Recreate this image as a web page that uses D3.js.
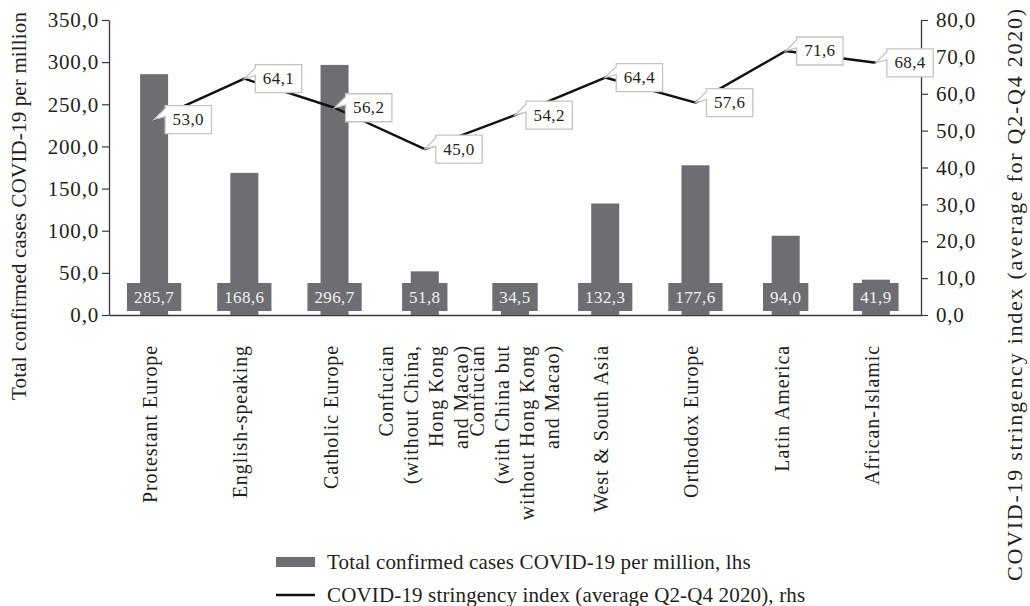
<!DOCTYPE html>
<html>
<head>
<meta charset="utf-8">
<script src="https://cdn.jsdelivr.net/npm/d3@7"></script>
<style>
  html, body { margin: 0; padding: 0; background: #fff; }
  svg { display: block; }
  text { font-family: "Liberation Serif", "Times New Roman", serif; fill: #231f20; }
</style>
</head>
<body>
<svg id="chart" width="1030" height="606"></svg>
<script>
// ---------------- DATA ----------------
const categories = [
  ["Protestant Europe"],
  ["English-speaking"],
  ["Catholic Europe"],
  ["Confucian", "(without China,", "Hong Kong", "and Macao)"],
  ["Confucian", "(with China but", "without Hong Kong", "and Macao)"],
  ["West & South Asia"],
  ["Orthodox Europe"],
  ["Latin America"],
  ["African-Islamic"]
];
const casesPerMillion = [285.7, 168.6, 296.7, 51.8, 34.5, 132.3, 177.6, 94.0, 41.9];
const stringencyIndex = [53.0, 64.1, 56.2, 45.0, 54.2, 64.4, 57.6, 71.6, 68.4];
const leftTicks = [0, 50, 100, 150, 200, 250, 300, 350];
const rightTicks = [0, 10, 20, 30, 40, 50, 60, 70, 80];
const leftTitle = "Total confirmed cases COVID-19 per million";
const rightTitle = "COVID-19 stringency index (average for Q2-Q4 2020)";
const legendBar = "Total confirmed cases COVID-19 per million, lhs";
const legendLine = "COVID-19 stringency index (average Q2-Q4 2020), rhs";

// ---------------- LAYOUT ----------------
const plot = { left: 109, right: 921, top: 20, bottom: 315 };
const barColor = "#6d6e71";
const axisColor = "#3a3a3a";

const locale = d3.formatLocale({ decimal: ",", thousands: " ", grouping: [3], currency: ["", ""] });
const fmt = locale.format(".1f");

const svg = d3.select("#chart");
const keys = categories.map((c, i) => i);

const x = d3.scaleBand().domain(keys).range([plot.left, plot.right]).padding(0);
const yL = d3.scaleLinear().domain([0, 350]).range([plot.bottom, plot.top]);
const yR = d3.scaleLinear().domain([0, 80]).range([plot.bottom, plot.top]);
const cx = i => x(i) + x.bandwidth() / 2;
const barW = 28;

// ---------------- AXES ----------------
const axL = svg.append("g").attr("transform", `translate(${plot.left},0)`)
  .call(d3.axisLeft(yL).tickValues(leftTicks).tickFormat(fmt).tickSize(7).tickSizeOuter(0).tickPadding(3));
const axR = svg.append("g").attr("transform", `translate(${plot.right},0)`)
  .call(d3.axisRight(yR).tickValues(rightTicks).tickFormat(fmt).tickSize(7).tickSizeOuter(0).tickPadding(8));
const axB = svg.append("g").attr("transform", `translate(0,${plot.bottom})`)
  .call(d3.axisBottom(x).tickSize(0).tickSizeOuter(0).tickFormat(() => ""));

[axL, axR, axB].forEach(g => {
  g.selectAll("path.domain").attr("stroke", axisColor).attr("stroke-width", 1.3);
  g.selectAll(".tick line").attr("stroke", axisColor).attr("stroke-width", 1.2);
  g.selectAll(".tick text").attr("font-size", 21).attr("letter-spacing", "0.8px")
    .attr("fill", "#231f20").style("font-family", '"Liberation Serif", "Times New Roman", serif');
});

// ---------------- BARS ----------------
svg.append("g").selectAll("rect").data(casesPerMillion).join("rect")
  .attr("x", (d, i) => cx(i) - barW / 2)
  .attr("y", d => yL(d))
  .attr("width", barW)
  .attr("height", d => yL(0) - yL(d))
  .attr("fill", barColor);

// value labels on bars (dark boxes near the base)
const vlg = svg.append("g");
casesPerMillion.forEach((d, i) => {
  const g = vlg.append("g");
  const t = g.append("text")
    .attr("x", cx(i)).attr("y", 297)
    .attr("text-anchor", "middle").attr("dominant-baseline", "central")
    .attr("font-size", 17).attr("letter-spacing", "0.4px")
    .style("fill", "#f2f2f2")
    .text(fmt(d));
  const bw = t.node().getComputedTextLength() + 14;
  g.insert("rect", "text")
    .attr("x", cx(i) - bw / 2).attr("y", 283)
    .attr("width", bw).attr("height", 28)
    .attr("fill", barColor);
});

// ---------------- LINE ----------------
const line = d3.line().x((d, i) => cx(i)).y(d => yR(d));
svg.append("path").datum(stringencyIndex)
  .attr("d", line)
  .attr("fill", "none")
  .attr("stroke", "#111")
  .attr("stroke-width", 2.4)
  .attr("stroke-linejoin", "round");

// callouts
const clg = svg.append("g");
stringencyIndex.forEach((d, i) => {
  const px = cx(i), py = yR(d);
  const g = clg.append("g");
  const left = px + 11, top = py - 14, h = 28;
  const t = g.append("text")
    .attr("font-size", 17).attr("letter-spacing", "0.4px")
    .attr("text-anchor", "middle").attr("dominant-baseline", "central")
    .text(fmt(d));
  const w = t.node().getComputedTextLength() + 15;
  t.attr("x", left + w / 2).attr("y", top + h / 2);
  g.insert("path", "text")
    .attr("d", `M${left},${top} H${left + w} V${top + h} H${left} V${py - 3} L${px},${py} L${left},${py - 11} Z`)
    .attr("fill", "#fff")
    .attr("stroke", "#c4c4c4")
    .attr("stroke-width", 1.3)
    .attr("stroke-linejoin", "miter");
});

// ---------------- CATEGORY LABELS ----------------
const labelTop = 345, lineGap = 25;
const clab = svg.append("g");
categories.forEach((lines, i) => {
  const g = clab.append("g").attr("transform", `translate(${cx(i)},${labelTop}) rotate(-90)`);
  const n = lines.length;
  lines.forEach((ln, j) => {
    g.append("text")
      .attr("x", 0)
      .attr("y", (n > 1 ? 6 : 3) + (j - (n - 1) / 2) * lineGap)
      .attr("text-anchor", "end")
      .attr("font-size", 20).attr("letter-spacing", "0.9px")
      .text(ln);
  });
});

// ---------------- AXIS TITLES ----------------
svg.append("text")
  .attr("transform", `translate(26,206) rotate(-90)`)
  .attr("text-anchor", "middle")
  .attr("font-size", 21)
  .attr("textLength", 388).attr("lengthAdjust", "spacing")
  .text(leftTitle);
svg.append("text")
  .attr("transform", `translate(1022,295) rotate(-90)`)
  .attr("text-anchor", "middle")
  .attr("font-size", 22)
  .attr("textLength", 572).attr("lengthAdjust", "spacing")
  .text(rightTitle);

// ---------------- LEGEND ----------------
const lg = svg.append("g");
lg.append("rect").attr("x", 276).attr("y", 557).attr("width", 39).attr("height", 10).attr("fill", barColor);
lg.append("text").attr("x", 327).attr("y", 569).attr("font-size", 21).attr("letter-spacing", "0.15px").text(legendBar);
lg.append("line").attr("x1", 276).attr("x2", 315).attr("y1", 595).attr("y2", 595)
  .attr("stroke", "#111").attr("stroke-width", 2.4);
lg.append("text").attr("x", 327).attr("y", 602).attr("font-size", 21).attr("letter-spacing", "0.15px").text(legendLine);
</script>
</body>
</html>
